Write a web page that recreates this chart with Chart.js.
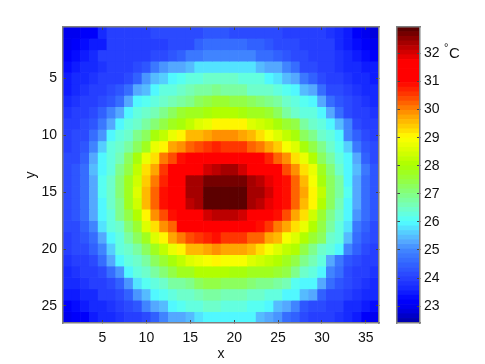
<!DOCTYPE html>
<html>
<head>
<meta charset="utf-8">
<style>
html,body{margin:0;padding:0;background:#fff;}
#wrap{position:relative;width:485px;height:364px;overflow:hidden;}
canvas{position:absolute;left:0;top:0;}
</style>
<script src="https://cdn.jsdelivr.net/npm/chart.js@4"></script>
</head>
<body>
<div id="wrap"><canvas id="map" width="485" height="364"></canvas><canvas id="bar" width="485" height="364"></canvas></div>
<script>
const columns = [1,2,3,4,5,6,7,8,9,10,11,12,13,14,15,16,17,18,19,20,21,22,23,24,25,26,27,28,29,30,31,32,33,34,35,36];
const rowNumbers = [1,2,3,4,5,6,7,8,9,10,11,12,13,14,15,16,17,18,19,20,21,22,23,24,25,26];
const xTicks = [5,10,15,20,25,30,35];
const yTicks = [5,10,15,20,25];
const colorbarTicks = [23,24,25,26,27,28,29,30,31,32];
const row01 = [23.0,23.0,23.2,23.2,23.6,23.9,23.9,23.9,23.9,23.9,24.1,24.1,24.1,24.1,24.1,24.1,24.3,24.3,24.3,24.2,24.2,24.2,24.2,24.1,24.1,24.0,24.0,24.0,23.9,23.9,23.8,23.7,23.4,23.2,23.0,22.8];
const row02 = [22.9,23.1,23.3,23.5,23.5,23.9,23.9,23.9,23.9,23.9,24.0,24.0,24.1,24.1,24.2,24.4,24.6,24.6,24.6,24.6,24.6,24.5,24.5,24.3,24.2,24.2,24.1,24.0,24.0,23.9,23.9,23.7,23.5,23.3,23.1,22.9];
const row03 = [23.1,23.3,23.5,23.7,23.9,23.9,23.9,23.9,23.9,23.9,24.1,24.1,24.3,24.5,24.8,24.8,25.0,25.0,25.0,25.0,25.0,25.0,24.7,24.7,24.5,24.3,24.2,24.1,24.0,24.0,23.9,23.8,23.7,23.5,23.3,23.2];
const row04 = [23.3,23.5,23.6,23.7,23.8,23.9,23.9,24.0,24.1,24.3,24.8,25.1,25.3,25.3,25.5,25.8,25.8,25.8,25.8,25.8,25.8,25.8,25.5,25.2,25.2,25.0,24.7,24.2,24.1,24.0,23.9,23.8,23.7,23.6,23.5,23.4];
const row05 = [23.4,23.6,23.7,23.8,23.9,23.9,24.0,24.2,24.5,25.1,25.5,25.6,25.9,26.1,26.2,26.3,26.4,26.5,26.4,26.4,26.3,26.3,26.2,26.0,25.8,25.4,25.2,24.8,24.4,24.2,24.0,23.9,23.8,23.7,23.6,23.5];
const row06 = [23.5,23.7,23.8,23.9,24.0,24.1,24.3,24.6,25.3,25.5,26.0,26.2,26.3,26.4,26.6,26.7,26.8,26.9,26.8,26.7,26.7,26.5,26.5,26.4,26.3,26.1,26.0,25.4,25.2,24.6,24.2,24.1,23.9,23.8,23.7,23.6];
const row07 = [23.7,23.8,23.9,24.0,24.1,24.3,24.6,25.2,25.9,26.1,26.3,26.5,26.6,26.8,26.9,27.2,27.5,27.6,27.6,27.5,27.4,27.2,27.1,26.9,26.7,26.5,26.2,26.1,26.0,25.2,24.6,24.3,24.1,23.9,23.8,23.7];
const row08 = [23.8,23.9,24.0,24.2,24.4,24.9,25.2,26.0,26.2,26.4,26.6,27.0,27.3,27.6,27.7,27.8,27.9,28.1,28.1,28.0,27.9,27.8,27.7,27.6,27.3,26.8,26.5,26.3,26.2,26.0,25.2,24.7,24.2,24.0,23.9,23.8];
const row09 = [23.9,24.0,24.1,24.3,24.8,25.3,26.0,26.2,26.4,26.7,27.1,27.5,27.7,27.9,28.3,28.6,28.8,29.0,29.0,29.0,29.0,28.6,28.4,28.3,27.9,27.6,27.4,26.8,26.5,26.2,26.0,25.4,24.9,24.2,24.0,23.9];
const row10 = [24.0,24.1,24.2,24.6,25.1,26.0,26.3,26.5,26.9,27.2,27.9,28.3,28.7,29.0,29.5,29.6,29.8,29.9,29.9,29.9,29.8,29.5,29.3,28.9,28.5,28.2,27.9,27.3,26.9,26.5,26.3,26.0,25.0,24.5,24.2,24.0];
const row11 = [24.0,24.2,24.3,24.9,25.6,26.2,26.4,26.7,27.3,27.8,28.7,29.0,29.7,29.9,30.3,30.4,30.6,30.7,30.6,30.6,30.5,30.3,30.1,29.7,29.4,28.9,28.6,27.9,27.4,27.0,26.4,26.1,25.6,24.8,24.3,24.1];
const row12 = [24.1,24.2,24.4,25.2,26.0,26.2,26.6,27.3,27.9,28.7,29.3,30.0,30.4,30.8,31.0,31.1,31.2,31.3,31.1,31.1,31.1,31.0,31.0,30.7,30.2,29.9,29.3,28.8,28.1,27.3,26.7,26.2,25.9,25.2,24.4,24.2];
const row13 = [24.1,24.3,24.7,25.4,26.0,26.3,27.0,27.5,28.3,29.2,29.8,30.5,31.0,31.2,31.4,31.7,32.0,32.2,32.3,32.3,32.0,31.7,31.4,31.3,31.0,30.4,29.9,29.2,28.7,27.8,27.1,26.4,26.0,25.4,24.8,24.3];
const row14 = [24.2,24.3,24.7,25.3,26.1,26.4,27.1,27.7,28.4,29.4,30.1,30.7,31.1,31.5,32.3,32.3,32.75,32.75,32.75,32.75,32.75,32.3,32.2,31.9,31.5,30.9,30.2,29.6,28.9,27.9,27.3,26.7,26.0,25.3,24.7,24.3];
const row15 = [24.2,24.3,24.6,25.3,26.1,26.5,27.1,27.8,28.5,29.6,30.3,30.9,31.2,31.6,32.35,32.35,32.85,32.85,32.85,32.85,32.85,32.4,32.3,32.0,31.5,30.9,30.3,29.7,29.0,28.2,27.3,26.7,26.1,25.3,24.7,24.3];
const row16 = [24.2,24.3,24.6,25.3,26.0,26.4,27.0,27.7,28.4,29.5,30.2,30.8,31.2,31.5,32.2,32.3,32.8,32.8,32.8,32.8,32.8,32.35,32.25,31.9,31.4,30.8,30.2,29.6,29.0,28.0,27.2,26.6,26.0,25.3,24.7,24.3];
const row17 = [24.2,24.3,24.7,25.2,26.0,26.3,26.9,27.4,28.1,29.1,29.9,30.4,30.8,31.2,31.3,31.5,32.0,32.2,32.2,32.2,32.0,31.7,31.3,31.2,30.9,30.4,29.8,29.2,28.4,27.6,27.0,26.5,26.0,25.1,24.6,24.3];
const row18 = [24.1,24.2,24.4,24.9,25.7,26.2,26.5,27.1,27.6,28.6,29.2,29.9,30.2,31.0,31.1,31.2,31.3,31.3,31.2,31.2,31.1,31.0,30.8,30.5,30.1,29.8,29.2,28.7,28.1,27.5,26.7,26.2,25.7,24.8,24.4,24.2];
const row19 = [24.0,24.2,24.3,24.6,25.2,26.0,26.3,26.7,27.2,27.8,28.5,29.0,29.7,30.0,30.4,30.5,30.7,30.8,30.6,30.6,30.5,30.3,30.2,29.8,29.5,28.9,28.5,28.0,27.6,27.2,26.5,26.2,25.5,24.6,24.3,24.1];
const row20 = [24.0,24.1,24.2,24.5,24.9,25.6,26.2,26.4,26.7,27.2,27.8,28.3,28.7,29.0,29.5,29.6,29.8,29.9,29.8,29.8,29.8,29.5,29.3,28.9,28.6,28.3,28.0,27.5,27.0,26.5,26.3,26.0,25.0,24.5,24.2,24.0];
const row21 = [23.8,23.9,24.0,24.1,24.6,25.2,26.0,26.2,26.5,26.7,27.2,27.6,27.9,28.3,28.5,28.7,28.9,29.0,28.9,28.9,28.9,28.6,28.4,28.3,28.0,27.8,27.5,26.9,26.6,26.2,25.3,24.8,24.3,24.1,24.0,23.9];
const row22 = [23.7,23.8,23.9,24.0,24.2,24.6,25.1,26.0,26.2,26.4,26.7,27.1,27.5,27.7,27.8,28.0,28.1,28.1,28.0,27.9,27.9,27.8,27.8,27.7,27.6,27.4,26.9,26.4,26.3,26.0,25.0,24.6,24.2,24.0,23.9,23.8];
const row23 = [23.6,23.7,23.8,23.9,24.0,24.1,24.4,25.1,25.8,26.1,26.3,26.5,26.7,26.8,27.0,27.2,27.4,27.5,27.3,27.2,27.2,27.1,27.0,26.9,26.7,26.6,26.1,26.0,25.9,25.2,24.6,24.3,24.1,23.9,23.8,23.7];
const row24 = [23.4,23.5,23.6,23.7,23.9,24.0,24.1,24.4,25.1,25.5,26.0,26.1,26.3,26.4,26.5,26.6,26.7,26.7,26.6,26.6,26.6,26.5,26.4,26.3,26.2,26.0,25.9,25.4,25.2,24.5,24.2,24.1,24.0,23.8,23.7,23.6];
const row25 = [23.1,23.3,23.5,23.6,23.7,23.8,23.9,24.1,24.3,24.9,25.2,25.5,26.0,26.1,26.2,26.3,26.4,26.4,26.3,26.2,26.2,26.1,26.1,25.9,25.5,25.2,24.9,24.3,24.2,24.1,24.0,23.9,23.7,23.6,23.5,23.3];
const row26 = [23.0,23.1,23.2,23.4,23.6,23.7,23.8,23.9,24.0,24.2,24.5,24.9,25.2,25.3,25.5,25.8,25.9,25.9,25.9,25.9,25.9,25.9,25.4,25.2,25.1,24.7,24.5,24.1,24.0,23.9,23.9,23.8,23.6,23.4,23.1,22.9];
const rows = [row01,row02,row03,row04,row05,row06,row07,row08,row09,row10,row11,row12,row13,row14,row15,row16,row17,row18,row19,row20,row21,row22,row23,row24,row25,row26];

const VMIN = 22.4, VMAX = 32.94, LEVELS = 64;
const stops = [
[22.4,0,0,165],[22.9,0,0,235],[23.2,0,0,255],[23.6,20,40,255],[24,40,65,255],[24.5,50,100,255],[25,65,135,255],
[25.3,85,170,255],[25.6,85,205,255],[26,80,255,255],[26.5,115,255,195],[27,130,255,130],[27.5,150,255,60],
[28,170,255,0],[28.5,215,255,0],[29,255,255,0],[29.3,255,215,0],[29.7,255,170,0],[30,255,130,0],[30.5,255,60,0],
[31,255,0,0],[31.7,255,0,0],[32,215,0,0],[32.4,160,0,0],[32.94,80,0,0]];
const step = (VMAX - VMIN) / LEVELS;
function ramp(v){
  for(let i=1;i<stops.length;i++){
    if(v<=stops[i][0]){
      const a=stops[i-1],b=stops[i],t=(v-a[0])/(b[0]-a[0]);
      return 'rgb('+[1,2,3].map(k=>Math.round(a[k]+(b[k]-a[k])*t)).join(',')+')';
    }
  }
  return 'rgb(80,0,0)';
}
function colorOf(v){
  const i=Math.max(0,Math.min(LEVELS-1,Math.floor((v-VMIN)/step)));
  return ramp(VMIN+(i+0.5)*step);
}

const TXT='#111', FRAME='#808080', TICK='#444';
const FONT={family:'"Liberation Sans", Arial, sans-serif',size:14};
function fixed(dim,val){return s=>{s[dim]=val;};}
function setTicks(list){return s=>{s.ticks=list.map(v=>({value:v}));};}
function axis(extra){
  return Object.assign({
    border:{display:true,color:FRAME,width:1.5,z:2},
    grid:{drawOnChartArea:false,drawTicks:true,tickLength:-3,tickColor:TICK,tickWidth:1,z:1,offset:false},
  },extra);
}
const hiddenLabels={display:false};

new Chart(document.getElementById('map'),{
  type:'bar',
  data:{datasets:rows.map((vals,r)=>({
    label:'row '+rowNumbers[r],
    data:columns.map((c,i)=>({x:c,y:[rowNumbers[r]-0.5,rowNumbers[r]+0.5]})),
    backgroundColor:vals.map(colorOf),
    borderWidth:0,
    grouped:false,
    barPercentage:1,
    categoryPercentage:1,
    xAxisID:'x',yAxisID:'y'
  }))},
  options:{
    responsive:false,animation:false,
    layout:{padding:{left:0,top:27,right:106,bottom:0}},
    plugins:{legend:{display:false},tooltip:{enabled:false}},
    scales:{
      x:axis({type:'linear',offset:false,position:'bottom',min:0.5,max:36.5,afterBuildTicks:setTicks(xTicks),afterFit:fixed('height',41),
        ticks:{color:TXT,font:FONT,padding:10,maxRotation:0,autoSkip:false},
        title:{display:true,text:'x',color:TXT,font:FONT,padding:{top:0,bottom:1}}}),
      y:axis({type:'linear',position:'left',reverse:true,min:0.5,max:26.5,afterBuildTicks:setTicks(yTicks),afterFit:fixed('width',63),
        ticks:{color:TXT,font:FONT,padding:9,autoSkip:false},
        title:{display:true,text:'y',color:TXT,font:FONT,padding:{top:23,bottom:0}}}),
      x2:axis({type:'linear',offset:false,position:'top',min:0.5,max:36.5,afterBuildTicks:setTicks(xTicks),afterFit:fixed('height',0),ticks:hiddenLabels}),
      y2:axis({type:'linear',position:'right',reverse:true,min:0.5,max:26.5,afterBuildTicks:setTicks(yTicks),afterFit:fixed('width',0),ticks:hiddenLabels})
    }
  }
});

const levelIndex=Array.from({length:LEVELS},(_,i)=>i);
const unitLabel={
  id:'unitLabel',
  afterDraw(chart){
    const s=chart.scales.y, ctx=chart.ctx, yy=s.getPixelForValue(32);
    ctx.save();ctx.fillStyle=TXT;ctx.textBaseline='middle';ctx.textAlign='left';
    ctx.font='15px "Liberation Sans", Arial, sans-serif';ctx.fillText('C',449,yy+0.5);
    ctx.font='11px "Liberation Sans", Arial, sans-serif';ctx.fillText('°',444,yy-5);
    ctx.restore();
  }
};
new Chart(document.getElementById('bar'),{
  type:'bar',
  data:{labels:['scale'],datasets:levelIndex.map(i=>({
    data:[[VMIN+i*step,VMIN+(i+1)*step]],
    backgroundColor:colorOf(VMIN+(i+0.5)*step),
    borderWidth:0,grouped:false,barPercentage:1,categoryPercentage:1,xAxisID:'x',yAxisID:'y'
  }))},
  plugins:[unitLabel],
  options:{
    responsive:false,animation:false,
    layout:{padding:{left:397,top:27,right:0,bottom:41}},
    plugins:{legend:{display:false},tooltip:{enabled:false}},
    scales:{
      x:{type:'category',position:'bottom',afterFit:fixed('height',0),border:{display:true,color:FRAME,width:1.5,z:2},grid:{display:false},ticks:hiddenLabels},
      xT:{type:'category',position:'top',labels:['scale'],afterFit:fixed('height',0),border:{display:true,color:FRAME,width:1.5,z:2},grid:{display:false},ticks:hiddenLabels},
      y:axis({type:'linear',position:'right',min:VMIN,max:VMAX,afterBuildTicks:setTicks(colorbarTicks),afterFit:fixed('width',65),
        ticks:{color:TXT,font:FONT,padding:7,autoSkip:false,callback:v=>String(v)}}),
      yL:axis({type:'linear',position:'left',min:VMIN,max:VMAX,afterBuildTicks:setTicks(colorbarTicks),afterFit:fixed('width',0),ticks:hiddenLabels})
    }
  }
});
</script>
</body>
</html>
